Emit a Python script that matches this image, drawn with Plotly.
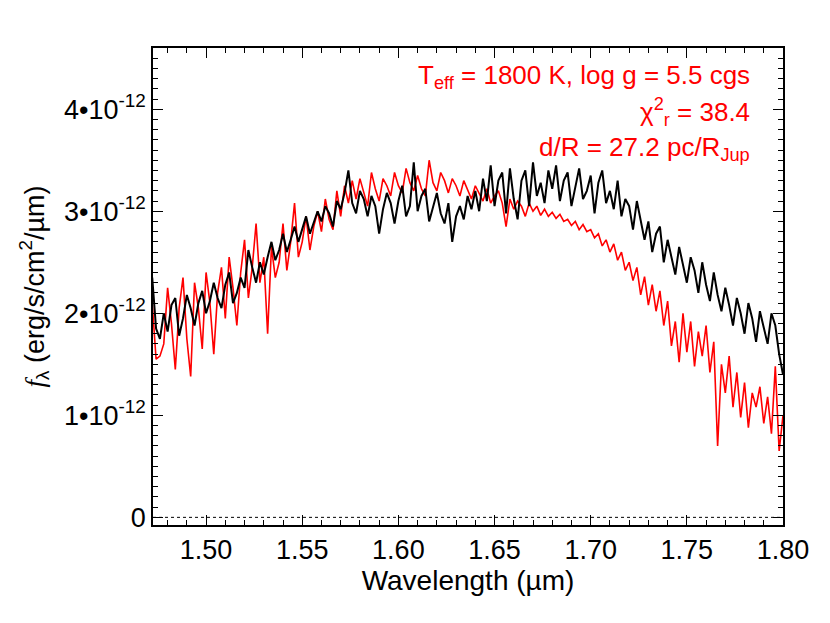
import plotly.graph_objects as go

# Wavelength grid (micron)
wavelength = [
    1.472, 1.474, 1.476, 1.478,
    1.480, 1.482, 1.484, 1.486, 1.488, 1.490, 1.492, 1.494, 1.496, 1.498,
    1.500, 1.502, 1.504, 1.506, 1.508, 1.510, 1.512, 1.514, 1.516, 1.518,
    1.520, 1.522, 1.524, 1.526, 1.528, 1.530, 1.532, 1.534, 1.536, 1.538,
    1.540, 1.542, 1.544, 1.546, 1.548, 1.550, 1.552, 1.554, 1.556, 1.558,
    1.560, 1.562, 1.564, 1.566, 1.568, 1.570, 1.572, 1.574, 1.576, 1.578,
    1.580, 1.582, 1.584, 1.586, 1.588, 1.590, 1.592, 1.594, 1.596, 1.598,
    1.600, 1.602, 1.604, 1.606, 1.608, 1.610, 1.612, 1.614, 1.616, 1.618,
    1.620, 1.622, 1.624, 1.626, 1.628, 1.630, 1.632, 1.634, 1.636, 1.638,
    1.640, 1.642, 1.644, 1.646, 1.648, 1.650, 1.652, 1.654, 1.656, 1.658,
    1.660, 1.662, 1.664, 1.666, 1.668, 1.670, 1.672, 1.674, 1.676, 1.678,
    1.680, 1.682, 1.684, 1.686, 1.688, 1.690, 1.692, 1.694, 1.696, 1.698,
    1.700, 1.702, 1.704, 1.706, 1.708, 1.710, 1.712, 1.714, 1.716, 1.718,
    1.720, 1.722, 1.724, 1.726, 1.728, 1.730, 1.732, 1.734, 1.736, 1.738,
    1.740, 1.742, 1.744, 1.746, 1.748, 1.750, 1.752, 1.754, 1.756, 1.758,
    1.760, 1.762, 1.764, 1.766, 1.768, 1.770, 1.772, 1.774, 1.776, 1.778,
    1.780, 1.782, 1.784, 1.786, 1.788, 1.790, 1.792, 1.794, 1.796, 1.798,
    1.800,
]

# Observed spectrum (units of 1e-12 erg/s/cm2/um)
observed = [
    2.35, 1.85, 1.75, 2.00,
    1.82, 2.08, 2.15, 1.78, 1.95, 2.18, 2.05, 1.88, 2.10, 2.22,
    2.00, 2.12, 2.30, 2.15, 2.05, 2.28, 2.40, 2.10, 2.20, 2.35,
    2.25, 2.62, 2.45, 2.30, 2.50, 2.38, 2.55, 2.70, 2.52, 2.62,
    2.78, 2.60, 2.72, 2.85, 2.70, 2.82, 2.95, 2.78, 2.88, 3.00,
    2.90, 3.05, 2.98, 2.85, 3.10, 3.02, 3.18, 3.40, 3.08, 2.98,
    3.20, 3.12, 2.95, 3.15, 3.05, 2.78, 3.02, 3.18, 3.08, 2.88,
    3.10, 3.25, 2.95, 3.05, 3.48, 3.00, 3.15, 3.22, 2.90, 3.05,
    3.18, 2.98, 2.88, 3.08, 2.70, 2.95, 3.05, 2.92, 3.15, 3.02,
    3.20, 3.00, 3.32, 3.10, 3.45, 3.05, 3.30, 3.38, 2.98, 3.42,
    3.12, 2.92, 3.30, 3.40, 3.05, 3.48, 3.15, 3.28, 3.08, 3.40,
    3.22, 3.45, 3.10, 3.30, 3.38, 3.05, 3.25, 3.42, 3.12, 3.20,
    3.35, 2.98, 3.28, 3.40, 3.08, 3.20, 3.02, 3.30, 2.95, 3.12,
    3.05, 2.82, 3.10, 2.90, 2.72, 2.90, 2.60, 2.78, 2.85, 2.50,
    2.72, 2.55, 2.38, 2.65, 2.48, 2.30, 2.55, 2.42, 2.20, 2.50,
    2.28, 2.12, 2.40, 2.18, 2.02, 2.25, 2.08, 1.88, 2.15, 2.00,
    1.80, 2.10, 1.95, 1.72, 2.02, 1.85, 1.70, 2.00, 1.88, 1.60,
    1.40,
]

# Model spectrum (units of 1e-12 erg/s/cm2/um)
model = [
    2.10, 1.55, 1.58, 1.70,
    2.25, 1.90, 1.45, 2.05, 2.35, 1.75, 1.38, 2.30, 2.05, 1.65,
    2.40, 2.10, 1.60, 2.20, 2.45, 1.95, 2.55, 2.25, 1.88, 2.40,
    2.72, 2.15, 2.45, 2.88, 2.30, 2.55, 1.80, 2.65, 2.35, 2.50,
    2.88, 2.42, 2.70, 3.08, 2.55, 2.70, 2.95, 2.62, 2.85, 3.00,
    2.80, 3.12, 2.92, 2.82, 3.20, 2.95, 3.25, 3.08, 3.30, 3.12,
    3.32, 3.18, 3.05, 3.38, 3.22, 3.10, 3.32, 3.25, 3.15, 3.38,
    3.25, 3.18, 3.42, 3.28, 3.20, 3.35, 3.22, 3.15, 3.50, 3.28,
    3.20, 3.38, 3.30, 3.18, 3.32, 3.25, 3.15, 3.30, 3.20, 3.12,
    3.25, 3.18, 3.10, 3.22, 3.08, 3.15, 3.20, 3.08, 2.85, 3.12,
    3.02, 3.10, 3.05, 2.95, 3.08, 3.00, 3.05, 2.96, 3.02, 2.95,
    2.99, 2.93, 2.97, 2.90, 2.92, 2.86, 2.90, 2.82, 2.87, 2.80,
    2.82, 2.74, 2.78, 2.66, 2.72, 2.60, 2.68, 2.52, 2.60, 2.42,
    2.50, 2.32, 2.45, 2.18, 2.36, 2.08, 2.28, 2.02, 2.22, 1.88,
    2.12, 1.68, 1.92, 1.52, 2.00, 1.62, 1.92, 1.48, 1.82, 1.58,
    1.88, 1.42, 1.72, 0.70, 1.50, 1.22, 1.58, 1.08, 1.42, 0.98,
    1.32, 0.88, 1.22, 1.08, 1.28, 0.92, 1.18, 0.82, 1.48, 0.65,
    1.00,
]

SCALE = 1e-12
y_tickvals = [0, 1, 2, 3, 4]
y_ticktext = ["0", "1\u202210<sup>-12</sup>", "2\u202210<sup>-12</sup>",
              "3\u202210<sup>-12</sup>", "4\u202210<sup>-12</sup>"]
x_tickvals = [1.50, 1.55, 1.60, 1.65, 1.70, 1.75, 1.80]
x_ticktext = ["1.50", "1.55", "1.60", "1.65", "1.70", "1.75", "1.80"]

FONT = "Liberation Sans, Arial, Helvetica, sans-serif"

fig = go.Figure()
fig.add_trace(go.Scatter(x=wavelength, y=[v * SCALE for v in model], mode="lines",
                         line=dict(color="#ff0000", width=1.6), showlegend=False))
fig.add_trace(go.Scatter(x=wavelength, y=[v * SCALE for v in observed], mode="lines",
                         line=dict(color="#000000", width=2), showlegend=False))

fig.add_shape(type="line", xref="paper", yref="y", x0=0, x1=1, y0=0, y1=0,
              line=dict(color="black", width=1, dash="dot"))

axis_common = dict(showline=True, linecolor="black", linewidth=1.5, mirror="allticks",
                   ticks="inside", ticklen=10, tickwidth=1.2, tickcolor="black",
                   showgrid=False, zeroline=False,
                   tickfont=dict(family=FONT, size=27, color="black"))

fig.update_xaxes(range=[1.4724, 1.800], tickvals=x_tickvals, ticktext=x_ticktext,
                 minor=dict(dtick=0.01, tick0=1.47, ticks="inside", ticklen=5,
                            tickwidth=1, tickcolor="black", showgrid=False),
                 title=dict(text="Wavelength (\u00b5m)", font=dict(family=FONT, size=28, color="black"),
                            standoff=4),
                 **axis_common)
fig.update_yaxes(range=[-0.075e-12, 4.60e-12],
                 tickvals=[v * SCALE for v in y_tickvals], ticktext=y_ticktext,
                 minor=dict(dtick=0.1e-12, tick0=0, ticks="inside", ticklen=5,
                            tickwidth=1, tickcolor="black", showgrid=False),
                 title=dict(text="<span style=\"font-family:'Liberation Serif','DejaVu Serif',serif\"><i>f</i></span><sub>\u03bb</sub> (erg/s/cm<sup>2</sup>/\u00b5m)",
                            font=dict(family=FONT, size=27, color="black"), standoff=12),
                 **axis_common)

ann_font = dict(family=FONT, size=26, color="#ff0000")
fig.add_annotation(xref="paper", yref="paper", x=0.951, y=0.941, xanchor="right", yanchor="middle",
                   text="T<sub>eff</sub> = 1800 K, log g = 5.5 cgs", showarrow=False, font=ann_font)
fig.add_annotation(xref="paper", yref="paper", x=0.951, y=0.866, xanchor="right", yanchor="middle",
                   text="\u03c7<sup>2</sup><sub>r</sub> = 38.4", showarrow=False, font=ann_font)
fig.add_annotation(xref="paper", yref="paper", x=0.951, y=0.790, xanchor="right", yanchor="middle",
                   text="d/R = 27.2 pc/R<sub>Jup</sub>", showarrow=False, font=ann_font)

fig.update_layout(width=830, height=623, margin=dict(l=145, r=55, t=40, b=106),
                  paper_bgcolor="white", plot_bgcolor="white",
                  font=dict(family=FONT, color="black"))

fig.write_html("out.html")
